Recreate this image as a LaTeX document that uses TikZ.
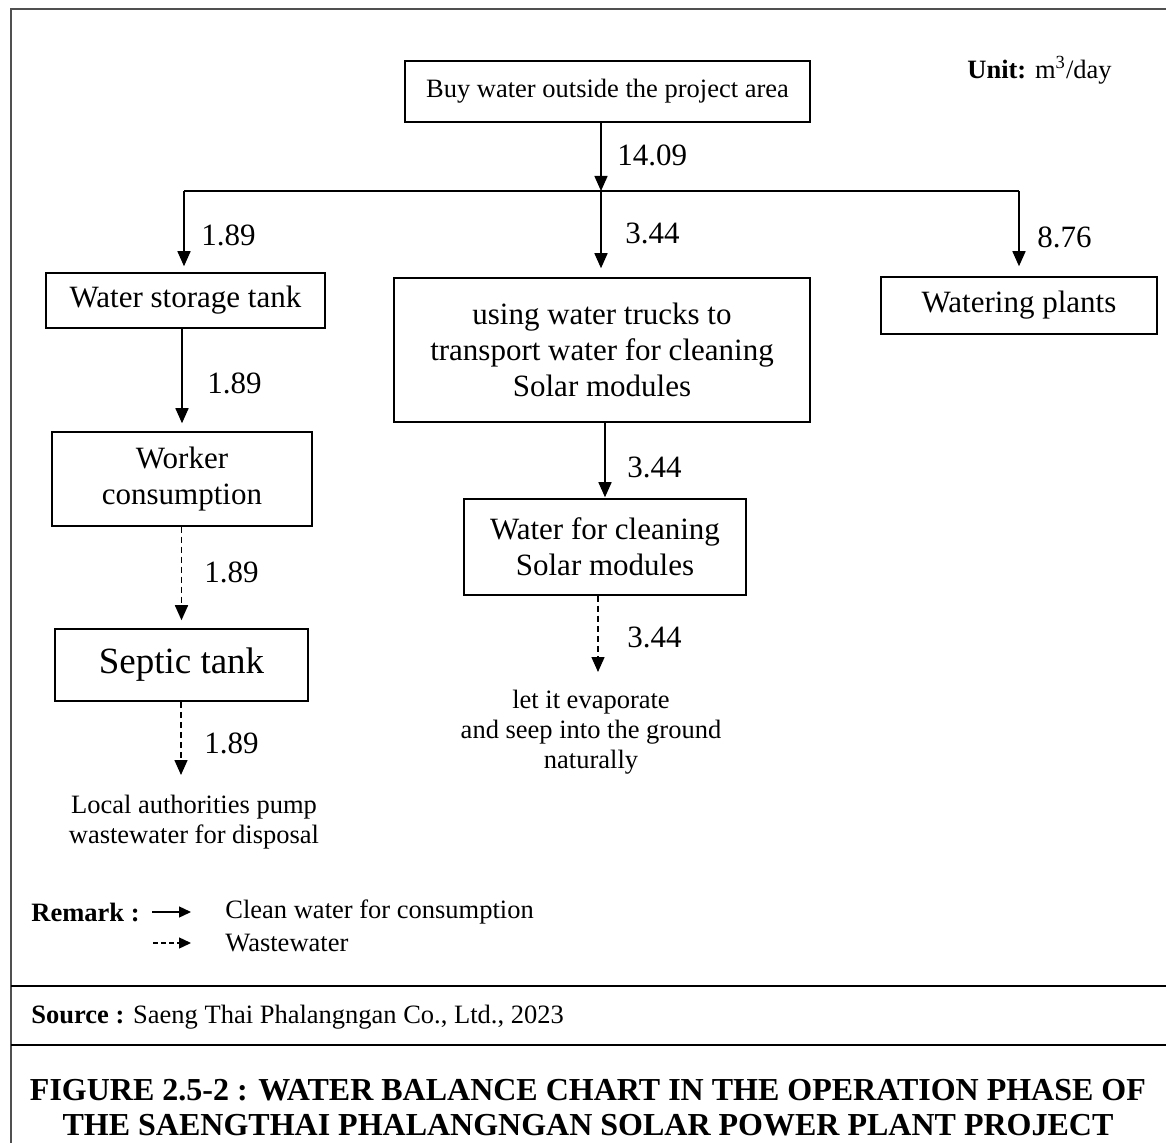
\documentclass[tikz,border=0pt]{standalone}
\usepackage{fontspec}
\setmainfont{Liberation Serif}
\usetikzlibrary{arrows.meta, positioning, calc}
\definecolor{framegray}{HTML}{505050}

\begin{document}
\begin{tikzpicture}[
    x=0.5pt, y=-0.5pt,
    >={Triangle[length=7.5pt, width=6.5pt]},
    box/.style={
      draw, line width=0.75pt, inner sep=0pt, align=center,
      font=\fontsize{15.5}{18}\selectfont
    },
    flow/.style={->, line width=0.75pt},
    waste/.style={flow, dash pattern=on 3pt off 2pt},
    num/.style={anchor=west, inner sep=0pt, font=\fontsize{15.5}{18}\selectfont},
    note/.style={inner sep=0pt, align=center, font=\fontsize{13.25}{15}\selectfont},
    keyarrow/.style={line width=0.7pt, -{Triangle[length=6pt, width=5.5pt]}}
  ]
  \useasboundingbox (0,0) rectangle (1166,1143);

  % Cadre et separations
  \draw[framegray, line width=1pt] (11,1143) -- (11,9) -- (1166,9);
  \draw[line width=0.6pt] (11,986) -- (1166,986);
  \draw[line width=0.6pt] (11,1045) -- (1166,1045);

  % Unite
  \node[note, anchor=west] (unit) at (967,70) {\textbf{Unit:} m\textsuperscript{3}/day};

  % Boites
  \node[box, minimum width=202.5pt, minimum height=30.5pt,
        font=\fontsize{13.25}{15}\selectfont] (buy) at (607.5,91.5)
        {Buy water outside the project area};
  \node[box, minimum width=139.5pt, minimum height=27.5pt] (storage) at (185.5,300.5)
        {Water storage tank};
  \node[box, minimum width=208pt, minimum height=72pt] (truck) at (602,350)
        {using water trucks to\\transport water for cleaning\\Solar modules};
  \node[box, minimum width=138pt, minimum height=28.5pt] (plants) at (1019,305.5)
        {Watering plants};
  \node[box, minimum width=130pt, minimum height=47pt] (worker) at (182,479)
        {Worker\\consumption};
  \node[box, minimum width=126.5pt, minimum height=36pt,
        font=\fontsize{18.5}{21}\selectfont] (septic) at (181.5,665)
        {Septic tank};
  \node[box, minimum width=141pt, minimum height=48pt] (cleaning) at (605,547)
        {Water for cleaning\\Solar modules};

  % Destinations finales
  \node[note] (disposal) at (194,822) {Local authorities pump\\wastewater for disposal};
  \node[note] (evap) at (591,732) {let it evaporate\\and seep into the ground\\naturally};

  % Repartition
  \coordinate (split)  at (601,191);
  \coordinate (splitL) at (184,191);
  \coordinate (splitR) at (1019,191);
  \draw[flow] (buy.south -| split) -- (split);
  \draw[line width=0.75pt] (splitL) -- (splitR);
  \draw[flow, shorten >=3pt] (splitL) -- (splitL |- storage.north);
  \draw[flow, shorten >=4.5pt] (split) -- (split |- truck.north);
  \draw[flow, shorten >=5pt] (splitR) -- (plants.north);

  % Eau propre
  \draw[flow, shorten >=4pt] (storage.south -| worker) -- (worker.north);
  \draw[flow, shorten >=0.5pt] (truck.south -| cleaning) -- (cleaning.north);

  % Eaux usees
  \coordinate (sepout)   at (181,775);
  \coordinate (cleanout) at (598,672);
  \draw[waste, shorten >=4pt] (worker.south -| septic) -- (septic.north);
  \draw[waste] (septic.south -| sepout) -- (sepout);
  \draw[waste] (cleaning.south -| cleanout) -- (cleanout);

  % Debits
  \node[num] (q0) at (617,155) {14.09};
  \node[num] (q1) at (201,235) {1.89};
  \node[num] (q2) at (625,233) {3.44};
  \node[num] (q3) at (1037,237) {8.76};
  \node[num] (q4) at (207,383) {1.89};
  \node[num] (q5) at (204,572) {1.89};
  \node[num] (q6) at (204,743) {1.89};
  \node[num] (q7) at (627,467) {3.44};
  \node[num] (q8) at (627,637) {3.44};

  % Legende
  \node[note, anchor=west, font=\bfseries\fontsize{13.25}{15}\selectfont] (remark) at (31,912) {Remark :};
  \coordinate (keyA1) at (152,912);
  \coordinate (keyA2) at (191,912);
  \coordinate (keyB1) at (153,943);
  \coordinate (keyB2) at (191,943);
  \draw[keyarrow] (keyA1) -- (keyA2);
  \draw[keyarrow, dash pattern=on 2.5pt off 1.5pt] (keyB1) -- (keyB2);
  \node[note, anchor=west] (clean) at (225,912) {Clean water for consumption};
  \node[note, anchor=west] (wastekey) at (225,943) {Wastewater};

  % Source et titre
  \node[note, anchor=west] (source) at (31,1017)
        {\textbf{Source :} Saeng Thai Phalangngan Co., Ltd., 2023};
  \node[inner sep=0pt, align=center, font=\bfseries\fontsize{16}{17.5}\selectfont] (caption) at (588,1108)
        {FIGURE 2.5-2 : WATER BALANCE CHART IN THE OPERATION PHASE OF\\
         THE SAENGTHAI PHALANGNGAN SOLAR POWER PLANT PROJECT};

\end{tikzpicture}
\end{document}
